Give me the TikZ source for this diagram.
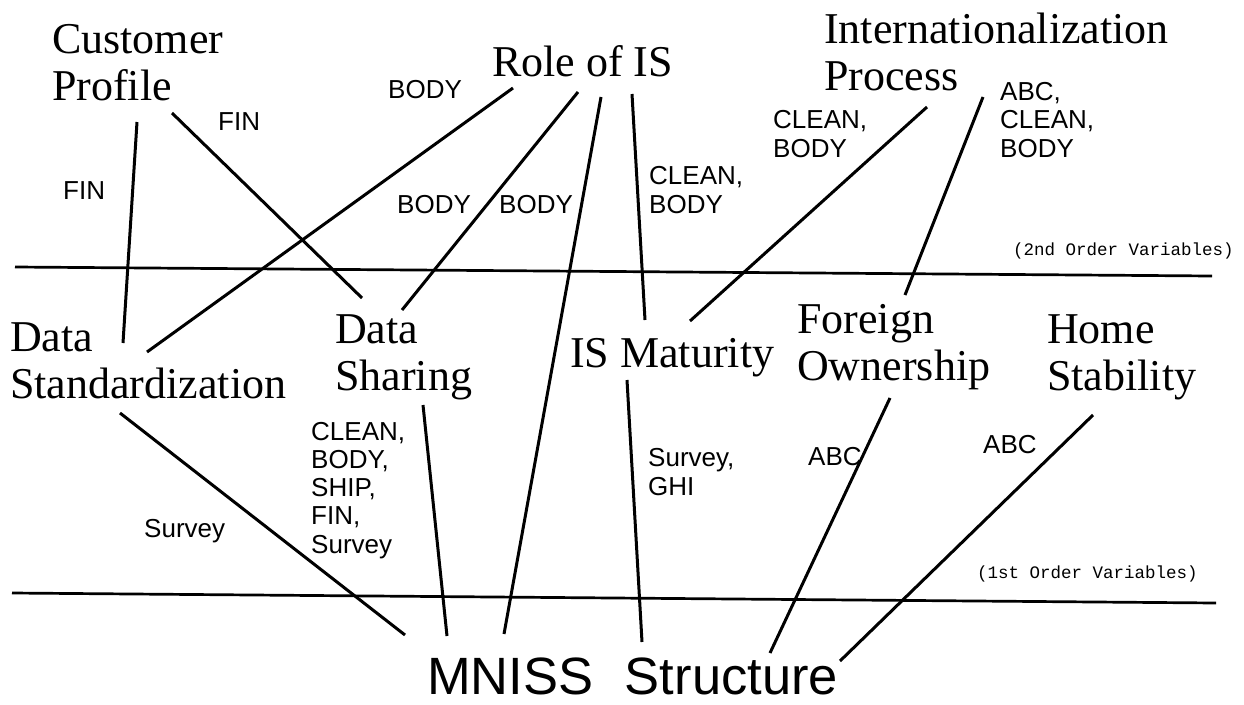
\documentclass[tikz,border=0pt]{standalone}
\usepackage{fontspec}
\setmainfont{Liberation Serif}
\setsansfont{Liberation Sans}
\setmonofont{Liberation Mono}
\usetikzlibrary{positioning}
\tikzset{
  varname/.style={font=\fontsize{44}{46.5}\selectfont,align=left,
                  inner sep=0pt,anchor=base west},
  srclabel/.style={font=\sffamily\fontsize{26}{28.2}\selectfont,align=left,
                   inner sep=0pt,anchor=base west},
  outcome/.style={font=\sffamily\fontsize{52.5}{56}\selectfont,
                  inner sep=0pt,anchor=base west},
  levelnote/.style={font=\ttfamily\fontsize{17.5}{20}\selectfont,
                    inner sep=0pt,anchor=base west},
  link/.style={line width=3pt},
  divider/.style={line width=2.7pt}
}

\begin{document}
\begin{tikzpicture}[x=1pt,y=-1pt]
  \useasboundingbox (0,0) rectangle (1244,704);

  % level dividers
  \draw[divider] (15,267) -- (1212,276);
  \draw[divider] (12,593) -- (1216,603);
  \node[levelnote] (note2) at (1013,255) {(2nd Order Variables)};
  \node[levelnote] (note1) at (977,578) {(1st Order Variables)};

  % 2nd order variables (anchored on the last line)
  \node[varname] (cust) at (52,100) {Customer\\Profile};
  \node[varname] (role) at (492,76) {Role of IS};
  \node[varname] (intl) at (824,90) {Internationalization\\Process};

  % 1st order variables
  \node[varname] (std) at (10,398) {Data\\Standardization};
  \node[varname] (share) at (335,390) {Data\\Sharing};
  \node[varname] (ismat) at (570,367) {IS Maturity};
  \node[varname] (foreign) at (797,380) {Foreign\\Ownership};
  \node[varname] (home) at (1047,390) {Home\\Stability};

  \node[outcome] (mniss) at (427,694) {MNISS\hspace{0.6em}Structure};

  % links between levels
  \draw[link] ([shift={(85,22)}]cust.base west) -- ([shift={(113,-55)}]std.base west);
  \draw[link] ([shift={(120,13)}]cust.base west) -- ([shift={(27,-92)}]share.base west);
  \draw[link] ([shift={(21,12)}]role.base west) -- ([shift={(137,-46)}]std.base west);
  \draw[link] ([shift={(86,16)}]role.base west) -- ([shift={(67,-80)}]share.base west);
  \draw[link] ([shift={(109,21)}]role.base west) -- ([shift={(77,-60)}]mniss.base west);
  \draw[link] ([shift={(140,18)}]role.base west) -- ([shift={(75,-47)}]ismat.base west);
  \draw[link] ([shift={(103,17)}]intl.base west) -- ([shift={(120,-46)}]ismat.base west);
  \draw[link] ([shift={(159,7)}]intl.base west) -- ([shift={(108,-85)}]foreign.base west);
  \draw[link] ([shift={(110,15)}]std.base west) -- ([shift={(-22,-59)}]mniss.base west);
  \draw[link] ([shift={(88,15)}]share.base west) -- ([shift={(20,-58)}]mniss.base west);
  \draw[link] ([shift={(57,13)}]ismat.base west) -- ([shift={(215,-52)}]mniss.base west);
  \draw[link] ([shift={(93,18)}]foreign.base west) -- ([shift={(343,-41)}]mniss.base west);
  \draw[link] ([shift={(46,25)}]home.base west) -- ([shift={(413,-33)}]mniss.base west);

  % data sources on the links
  \node[srclabel] (finA) at (63,199) {FIN};
  \node[srclabel] (finB) at (218,130) {FIN};
  \node[srclabel] (bodyA) at (388,98) {BODY};
  \node[srclabel] (bodyB) at (397,213) {BODY};
  \node[srclabel] (bodyC) at (499,213) {BODY};
  \node[srclabel] (cleanA) at (649,213) {CLEAN,\\BODY};
  \node[srclabel] (cleanB) at (773,157) {CLEAN,\\BODY};
  \node[srclabel] (abcA) at (1000,157) {ABC,\\CLEAN,\\BODY};
  \node[srclabel] (surveyA) at (144,537) {Survey};
  \node[srclabel] (listA) at (311,553) {CLEAN,\\BODY,\\SHIP,\\FIN,\\Survey};
  \node[srclabel] (surveyB) at (648,495) {Survey,\\GHI};
  \node[srclabel] (abcB) at (808,465) {ABC};
  \node[srclabel] (abcC) at (983,453) {ABC};
\end{tikzpicture}
\end{document}
